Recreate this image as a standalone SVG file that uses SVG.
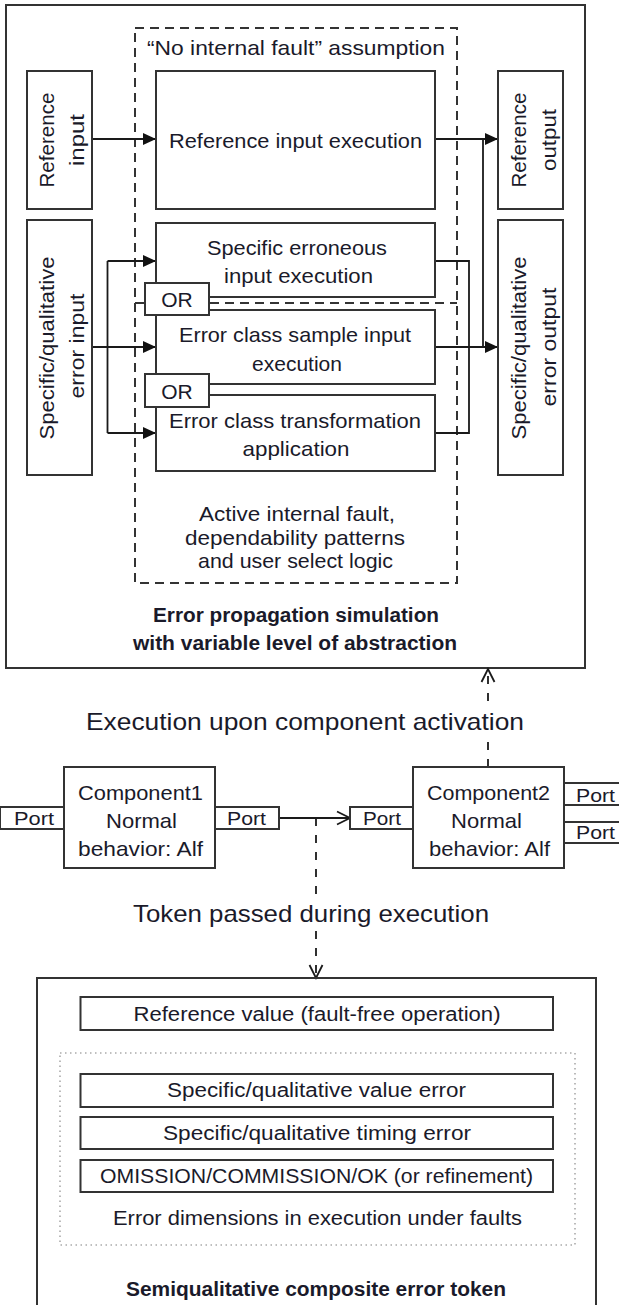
<svg xmlns="http://www.w3.org/2000/svg" width="619" height="1305" viewBox="0 0 619 1305">
<style>
.box{fill:#fff;stroke:#333;stroke-width:2}
.frame{fill:none;stroke:#333;stroke-width:2}
.dash{fill:none;stroke:#333;stroke-width:2;stroke-dasharray:9 6}
.dot{fill:none;stroke:#aaa;stroke-width:1.6;stroke-dasharray:1.5 3.5}
.ln{fill:none;stroke:#1a1a1a;stroke-width:1.8}
.dl{fill:none;stroke:#1a1a1a;stroke-width:1.8;stroke-dasharray:8 9}
text{font-family:"Liberation Sans",Arial,sans-serif;fill:#1a1a2a;text-anchor:middle;dominant-baseline:central;font-size:21px}
.big{font-size:24px}
.sm{font-size:20px}
.pt{font-size:19px}
.b{font-weight:bold;font-size:20px}
</style>
<defs>
<marker id="af" markerUnits="userSpaceOnUse" markerWidth="14" markerHeight="12" refX="13" refY="6" orient="auto"><path d="M0,0 L13,6 L0,12 z" fill="#111"/></marker>
<marker id="ao" markerUnits="userSpaceOnUse" markerWidth="16" markerHeight="16" refX="14" refY="8" orient="auto"><path d="M1,1.5 L14,8 L1,14.5" fill="none" stroke="#1a1a1a" stroke-width="1.8"/></marker>
</defs>

<g id="simulation">
<rect class="frame" x="6" y="5" width="579" height="663"/>
<text class="b" x="296" y="615" textLength="286" lengthAdjust="spacingAndGlyphs">Error propagation simulation</text>
<text class="b" x="295" y="643" textLength="324" lengthAdjust="spacingAndGlyphs">with variable level of abstraction</text>
</g>

<g id="assumption-region">
<rect class="dash" x="135" y="28" width="322" height="555"/>
<line class="dash" x1="135" y1="303" x2="457" y2="303"/>
<text x="296" y="47" textLength="298" lengthAdjust="spacingAndGlyphs">“No internal fault” assumption</text>
<text x="297" y="513" textLength="196" lengthAdjust="spacingAndGlyphs">Active internal fault,</text>
<text x="295" y="537" textLength="220" lengthAdjust="spacingAndGlyphs">dependability patterns</text>
<text x="295.5" y="560" textLength="195" lengthAdjust="spacingAndGlyphs">and user select logic</text>
</g>

<g id="connectors">
<line class="ln" x1="92" y1="139" x2="156" y2="139" marker-end="url(#af)"/>
<line class="ln" x1="435" y1="139" x2="498" y2="139" marker-end="url(#af)"/>
<line class="ln" x1="483" y1="139" x2="483" y2="347"/>
<line class="ln" x1="435" y1="347" x2="498" y2="347" marker-end="url(#af)"/>
<polyline class="ln" points="435,261 469,261 469,433 435,433"/>
<line class="ln" x1="92" y1="347" x2="156" y2="347" marker-end="url(#af)"/>
<line class="ln" x1="107.5" y1="261" x2="107.5" y2="433"/>
<line class="ln" x1="107.5" y1="261" x2="156" y2="261" marker-end="url(#af)"/>
<line class="ln" x1="107.5" y1="433" x2="156" y2="433" marker-end="url(#af)"/>
<line class="ln" x1="279" y1="818" x2="350" y2="818" marker-end="url(#ao)"/>
<line class="dl" x1="316" y1="818" x2="316" y2="897"/>
<line class="dl" x1="316" y1="931" x2="316" y2="978" marker-end="url(#ao)"/>
<line class="dl" x1="488" y1="767" x2="488" y2="737"/>
<line class="dl" x1="488" y1="701" x2="488" y2="669" marker-end="url(#ao)"/>
</g>

<g id="reference-input">
<rect class="box" x="27" y="71" width="65" height="138"/>
<text x="46" y="140" transform="rotate(-90 46 140)" textLength="95" lengthAdjust="spacingAndGlyphs">Reference</text>
<text x="76" y="140" transform="rotate(-90 76 140)" textLength="52" lengthAdjust="spacingAndGlyphs">input</text>
</g>
<g id="reference-execution">
<rect class="box" x="156" y="71" width="279" height="138"/>
<text x="295.5" y="140" textLength="253" lengthAdjust="spacingAndGlyphs">Reference input execution</text>
</g>
<g id="reference-output">
<rect class="box" x="498" y="71" width="65" height="138"/>
<text x="518" y="140" transform="rotate(-90 518 140)" textLength="95" lengthAdjust="spacingAndGlyphs">Reference</text>
<text x="548" y="140" transform="rotate(-90 548 140)" textLength="62" lengthAdjust="spacingAndGlyphs">output</text>
</g>
<g id="error-input">
<rect class="box" x="27" y="220" width="65" height="255"/>
<text x="46" y="348" transform="rotate(-90 46 348)" textLength="183" lengthAdjust="spacingAndGlyphs">Specific/qualitative</text>
<text x="76" y="346" transform="rotate(-90 76 346)" textLength="105" lengthAdjust="spacingAndGlyphs">error input</text>
</g>
<g id="error-output">
<rect class="box" x="498" y="220" width="65" height="255"/>
<text x="518" y="348" transform="rotate(-90 518 348)" textLength="183" lengthAdjust="spacingAndGlyphs">Specific/qualitative</text>
<text x="548" y="347" transform="rotate(-90 548 347)" textLength="119" lengthAdjust="spacingAndGlyphs">error output</text>
</g>
<g id="specific-erroneous">
<rect class="box" x="156" y="223" width="279" height="74"/>
<text x="297" y="247" textLength="180" lengthAdjust="spacingAndGlyphs">Specific erroneous</text>
<text x="298.5" y="275" textLength="149" lengthAdjust="spacingAndGlyphs">input execution</text>
</g>
<g id="sample-execution">
<rect class="box" x="156" y="310" width="279" height="74"/>
<text x="295" y="334" textLength="232" lengthAdjust="spacingAndGlyphs">Error class sample input</text>
<text x="297" y="363" textLength="90" lengthAdjust="spacingAndGlyphs">execution</text>
</g>
<g id="transformation">
<rect class="box" x="156" y="395" width="279" height="76"/>
<text x="295" y="420" textLength="252" lengthAdjust="spacingAndGlyphs">Error class transformation</text>
<text x="296" y="448" textLength="107" lengthAdjust="spacingAndGlyphs">application</text>
</g>
<g id="or1">
<rect class="box" x="145" y="283" width="64" height="32"/>
<text x="177" y="299">OR</text>
</g>
<g id="or2">
<rect class="box" x="145" y="374" width="64" height="33"/>
<text x="177" y="391">OR</text>
</g>

<g id="activation-label">
<text class="big" x="305" y="721" textLength="438" lengthAdjust="spacingAndGlyphs">Execution upon component activation</text>
</g>

<g id="component1">
<rect class="box" x="0" y="807" width="64" height="22"/>
<text class="pt" x="34" y="818" textLength="40" lengthAdjust="spacingAndGlyphs">Port</text>
<rect class="box" x="215" y="807" width="64" height="22"/>
<text class="pt" x="246.5" y="818" textLength="39" lengthAdjust="spacingAndGlyphs">Port</text>
<rect class="box" x="64" y="767" width="151" height="101"/>
<text x="140.5" y="792" textLength="125" lengthAdjust="spacingAndGlyphs">Component1</text>
<text x="141.5" y="820" textLength="71" lengthAdjust="spacingAndGlyphs">Normal</text>
<text x="140.5" y="848" textLength="125" lengthAdjust="spacingAndGlyphs">behavior: Alf</text>
</g>

<g id="component2">
<rect class="box" x="350" y="807" width="63" height="22"/>
<text class="pt" x="382" y="818" textLength="38" lengthAdjust="spacingAndGlyphs">Port</text>
<rect class="box" x="564" y="783" width="62" height="22"/>
<text class="pt" x="595.5" y="795" textLength="39" lengthAdjust="spacingAndGlyphs">Port</text>
<rect class="box" x="564" y="822" width="62" height="21"/>
<text class="pt" x="595.5" y="832" textLength="39" lengthAdjust="spacingAndGlyphs">Port</text>
<rect class="box" x="413" y="767" width="151" height="101"/>
<text x="488.5" y="792" textLength="123" lengthAdjust="spacingAndGlyphs">Component2</text>
<text x="486.5" y="820" textLength="71" lengthAdjust="spacingAndGlyphs">Normal</text>
<text x="489.5" y="848" textLength="121" lengthAdjust="spacingAndGlyphs">behavior: Alf</text>
</g>

<g id="token-label">
<text class="big" x="311" y="913" textLength="356" lengthAdjust="spacingAndGlyphs">Token passed during execution</text>
</g>

<g id="error-token">
<rect class="frame" x="37" y="978" width="559" height="340"/>
<text class="b" x="316" y="1289" textLength="380" lengthAdjust="spacingAndGlyphs">Semiqualitative composite error token</text>
</g>
<g id="reference-value">
<rect class="box" x="80.5" y="997" width="472.5" height="33"/>
<text class="sm" x="317" y="1013.5" textLength="367" lengthAdjust="spacingAndGlyphs">Reference value (fault-free operation)</text>
</g>
<g id="error-dimensions">
<rect class="dot" x="60" y="1053" width="515" height="192"/>
<text class="sm" x="317.5" y="1218" textLength="409" lengthAdjust="spacingAndGlyphs">Error dimensions in execution under faults</text>
</g>
<g id="value-error">
<rect class="box" x="80.5" y="1074" width="472.5" height="33"/>
<text class="sm" x="316.5" y="1090" textLength="299" lengthAdjust="spacingAndGlyphs">Specific/qualitative value error</text>
</g>
<g id="timing-error">
<rect class="box" x="80.5" y="1117" width="472.5" height="32"/>
<text class="sm" x="317" y="1133" textLength="308" lengthAdjust="spacingAndGlyphs">Specific/qualitative timing error</text>
</g>
<g id="omission">
<rect class="box" x="80.5" y="1160" width="472.5" height="32"/>
<text class="sm" x="316.5" y="1176" textLength="433" lengthAdjust="spacingAndGlyphs">OMISSION/COMMISSION/OK (or refinement)</text>
</g>
</svg>
